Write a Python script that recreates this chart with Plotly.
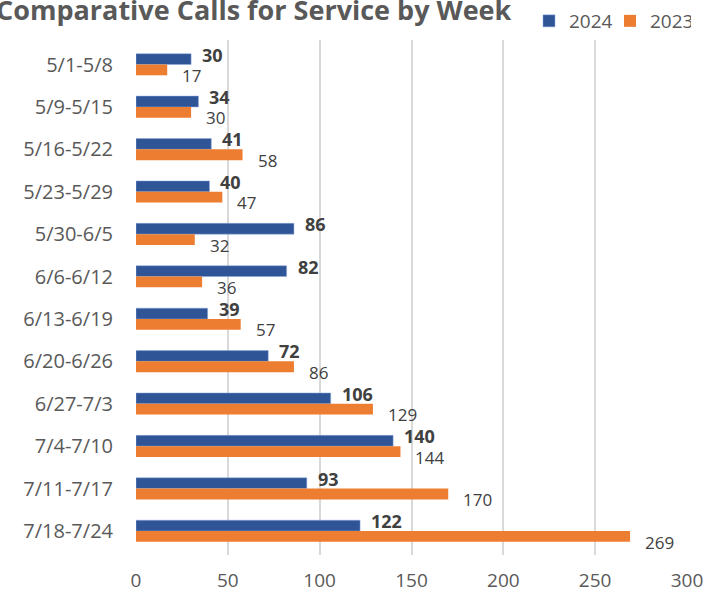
import plotly.graph_objects as go

weeks = ["5/1-5/8", "5/9-5/15", "5/16-5/22", "5/23-5/29", "5/30-6/5", "6/6-6/12",
         "6/13-6/19", "6/20-6/26", "6/27-7/3", "7/4-7/10", "7/11-7/17", "7/18-7/24"]
calls_2024 = [30, 34, 41, 40, 86, 82, 39, 72, 106, 140, 93, 122]
calls_2023 = [17, 30, 58, 47, 32, 36, 57, 86, 129, 144, 170, 269]
x_ticks = [0, 50, 100, 150, 200, 250, 300]

BLUE = "#2F5597"
ORANGE = "#ED7D31"
GRAY = "#595959"
FONT = "Open Sans"

fig = go.Figure()
fig.add_trace(go.Bar(y=weeks, x=calls_2024, orientation="h", name="2024",
                     marker=dict(color=BLUE, line=dict(color="#8FAADC", width=0.5))))
fig.add_trace(go.Bar(y=weeks, x=calls_2023, orientation="h", name="2023",
                     marker=dict(color=ORANGE, line=dict(width=0))))

annotations = []
for w, v in zip(weeks, calls_2024):
    annotations.append(dict(x=v, y=w, text=f"<b>{v}</b>", showarrow=False, xanchor="left",
                            xshift=9, yshift=10, font=dict(size=18, color="#404040", family=FONT)))
for w, v in zip(weeks, calls_2023):
    annotations.append(dict(x=v, y=w, text=f"{v}", showarrow=False, xanchor="left",
                            xshift=13, yshift=-11, font=dict(size=17, color="#404040", family=FONT)))
annotations.append(dict(xref="paper", yref="paper", x=-136/551, y=1 + (39.5 - 9) / 516,
                        xanchor="left", yanchor="middle", xshift=-6,
                        text="<b>Comparative Calls for Service by Week</b>",
                        showarrow=False, font=dict(size=27, color=GRAY, family=FONT)))

fig.update_layout(
    width=705, height=601,
    margin=dict(l=136, r=18, t=39.5, b=45.5, autoexpand=False),
    paper_bgcolor="white", plot_bgcolor="white",
    barmode="group", bargap=0.49, bargroupgap=0,
    showlegend=True,
    legend=dict(orientation="h", xref="container", yref="container", x=529/705, y=1 - 2/601,
                xanchor="left", yanchor="top", font=dict(size=19, color=GRAY, family=FONT),
                traceorder="normal", itemwidth=30, entrywidth=36, entrywidthmode="pixels",
                bgcolor="rgba(0,0,0,0)"),
    annotations=annotations,
    xaxis=dict(range=[0, 300], tickvals=x_ticks, showgrid=True, gridcolor="#D9D9D9",
               gridwidth=1.5, zeroline=False, showline=False, ticks="", automargin=False,
               tickfont=dict(size=19, color=GRAY, family=FONT), ticklabelstandoff=12),
    yaxis=dict(autorange="reversed", showgrid=False, ticks="", showline=False, automargin=False,
               tickfont=dict(size=20, color=GRAY, family=FONT), ticklabelstandoff=22),
)

fig.write_html("out.html", config={"displayModeBar": False},
               post_script="document.body.style.margin='0';document.body.style.overflow='hidden';")
